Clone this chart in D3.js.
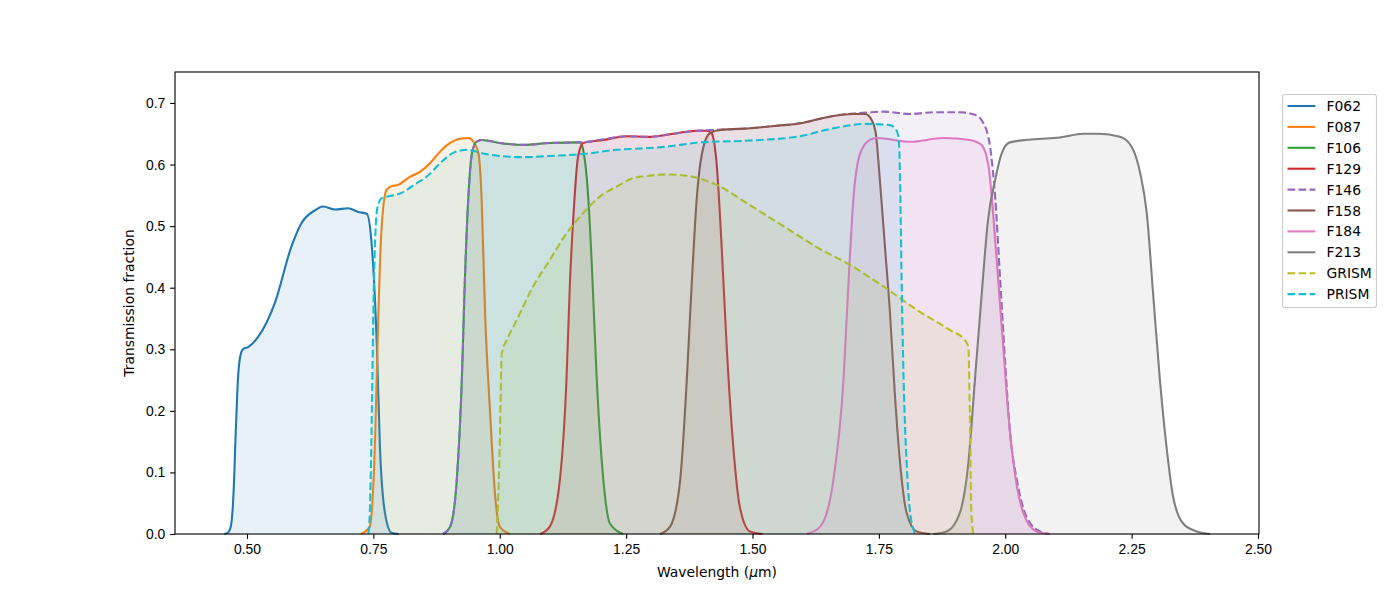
<!DOCTYPE html>
<html>
<head>
<meta charset="utf-8">
<script src="https://cdn.jsdelivr.net/npm/d3@7"></script>
<style>
  body { margin: 0; background: #fff; }
  svg { font-family: "DejaVu Sans", sans-serif; }
  .tick text { font-size: 13.9px; fill: #000; }
</style>
</head>
<body>
<div id="root"></div>
<script>
// filter transmission curves, [wavelength um, transmission]
const f062 = [[0.455,0],[0.462,0.002],[0.468,0.012],[0.473,0.06],[0.478,0.17],[0.482,0.25],[0.487,0.29],[0.492,0.30],[0.503,0.304],[0.522,0.32],[0.555,0.375],[0.588,0.467],[0.608,0.505],[0.635,0.526],[0.650,0.532],[0.674,0.527],[0.700,0.529],[0.720,0.523],[0.737,0.520],[0.747,0.467],[0.757,0.304],[0.763,0.142],[0.773,0.034],[0.786,0.002],[0.80,0]];
const f087 = [[0.725,0],[0.743,0.012],[0.753,0.142],[0.760,0.359],[0.766,0.494],[0.776,0.559],[0.786,0.565],[0.799,0.567],[0.822,0.580],[0.842,0.588],[0.862,0.602],[0.882,0.621],[0.902,0.635],[0.921,0.642],[0.938,0.643],[0.948,0.637],[0.958,0.618],[0.964,0.548],[0.971,0.358],[0.981,0.196],[0.991,0.061],[1.000,0.012],[1.02,0]];
const f106 = [[0.888,0],[0.902,0.012],[0.915,0.088],[0.925,0.25],[0.931,0.412],[0.938,0.548],[0.945,0.618],[0.954,0.637],[0.964,0.640],[1.000,0.635],[1.047,0.632],[1.099,0.635],[1.159,0.636],[1.165,0.624],[1.175,0.548],[1.182,0.44],[1.192,0.25],[1.205,0.088],[1.218,0.017],[1.244,0]];
const f129 = [[1.08,0],[1.099,0.012],[1.119,0.088],[1.132,0.25],[1.139,0.41],[1.146,0.52],[1.155,0.613],[1.165,0.635],[1.205,0.640],[1.251,0.646],[1.297,0.645],[1.343,0.650],[1.390,0.655],[1.409,0.655],[1.419,0.651],[1.429,0.602],[1.439,0.467],[1.449,0.304],[1.462,0.142],[1.475,0.044],[1.495,0.004],[1.52,0]];
const f146 = [[0.888,0],[0.902,0.012],[0.915,0.088],[0.925,0.25],[0.931,0.412],[0.938,0.548],[0.945,0.618],[0.954,0.637],[0.964,0.640],[1.000,0.635],[1.047,0.632],[1.099,0.635],[1.159,0.636],[1.205,0.641],[1.251,0.646],[1.297,0.645],[1.343,0.650],[1.390,0.655],[1.419,0.656],[1.495,0.659],[1.548,0.663],[1.594,0.667],[1.627,0.673],[1.660,0.679],[1.700,0.683],[1.735,0.685],[1.759,0.686],[1.812,0.682],[1.858,0.685],[1.910,0.685],[1.940,0.681],[1.957,0.667],[1.970,0.629],[1.980,0.548],[1.990,0.413],[2.000,0.277],[2.009,0.169],[2.023,0.088],[2.042,0.028],[2.069,0.004],[2.088,0]];
const f158 = [[1.317,0],[1.337,0.012],[1.357,0.088],[1.370,0.25],[1.380,0.41],[1.390,0.548],[1.403,0.629],[1.416,0.651],[1.436,0.656],[1.495,0.659],[1.548,0.663],[1.594,0.667],[1.627,0.673],[1.660,0.679],[1.700,0.682],[1.723,0.682],[1.736,0.672],[1.744,0.650],[1.752,0.575],[1.762,0.467],[1.772,0.359],[1.782,0.223],[1.792,0.115],[1.805,0.034],[1.825,0.004],[1.851,0]];
const f184 = [[1.607,0],[1.634,0.012],[1.660,0.088],[1.680,0.25],[1.690,0.41],[1.700,0.548],[1.713,0.618],[1.732,0.640],[1.746,0.643],[1.812,0.637],[1.877,0.643],[1.930,0.640],[1.953,0.632],[1.967,0.597],[1.976,0.521],[1.986,0.413],[1.996,0.304],[2.006,0.196],[2.019,0.099],[2.036,0.034],[2.062,0.004],[2.088,0]];
const f213 = [[1.858,0],[1.884,0.004],[1.910,0.034],[1.927,0.115],[1.940,0.25],[1.953,0.385],[1.966,0.51],[1.980,0.575],[1.993,0.618],[2.009,0.636],[2.056,0.641],[2.108,0.644],[2.155,0.650],[2.185,0.650],[2.227,0.645],[2.250,0.629],[2.267,0.586],[2.280,0.521],[2.293,0.385],[2.306,0.25],[2.319,0.142],[2.332,0.061],[2.352,0.017],[2.379,0.004],[2.405,0]];
const grism = [[0.994,0],[1.000,0.142],[1.004,0.293],[1.014,0.315],[1.034,0.348],[1.066,0.402],[1.099,0.445],[1.132,0.488],[1.165,0.521],[1.198,0.548],[1.231,0.564],[1.264,0.578],[1.297,0.582],[1.330,0.584],[1.376,0.581],[1.429,0.567],[1.495,0.534],[1.561,0.500],[1.627,0.466],[1.693,0.437],[1.759,0.402],[1.825,0.364],[1.891,0.331],[1.920,0.315],[1.927,0.304],[1.930,0.196],[1.933,0.034],[1.937,0]];
const prism = [[0.740,0],[0.743,0.034],[0.747,0.196],[0.750,0.358],[0.753,0.467],[0.758,0.530],[0.766,0.545],[0.783,0.549],[0.803,0.553],[0.836,0.570],[0.855,0.580],[0.882,0.602],[0.908,0.619],[0.935,0.624],[0.967,0.618],[1.000,0.614],[1.047,0.612],[1.099,0.614],[1.165,0.617],[1.231,0.624],[1.277,0.626],[1.330,0.629],[1.396,0.636],[1.495,0.639],[1.594,0.646],[1.660,0.659],[1.726,0.666],[1.772,0.664],[1.782,0.659],[1.789,0.645],[1.792,0.575],[1.795,0.413],[1.799,0.25],[1.805,0.115],[1.812,0.034],[1.822,0]];

const names = ["F062", "F087", "F106", "F129", "F146", "F158", "F184", "F213", "GRISM", "PRISM"];
const curves = [f062, f087, f106, f129, f146, f158, f184, f213, grism, prism];
const dashed = ["F146", "GRISM", "PRISM"];
const colors = ["#1f77b4", "#ff7f0e", "#2ca02c", "#d62728", "#9467bd", "#8c564b", "#e377c2", "#7f7f7f", "#bcbd22", "#17becf"];

const xTicks = [0.5, 0.75, 1.0, 1.25, 1.5, 1.75, 2.0, 2.25, 2.5];
const yTicks = [0, 0.1, 0.2, 0.3, 0.4, 0.5, 0.6, 0.7];

const width = 1400;
const height = 600;
const margin = { top: 72, right: 141, bottom: 66, left: 175 };
const lw = 2.08;
const dash = "7.7,3.33";

const svg = d3
  .select("#root")
  .append("svg")
  .attr("width", width)
  .attr("height", height);

const x = d3
  .scaleLinear()
  .domain([0.3576, 2.502])
  .range([margin.left, width - margin.right]);
const y = d3
  .scaleLinear()
  .domain([0, 0.7503])
  .range([height - margin.bottom, margin.top]);

const area = d3
  .area()
  .x((d) => x(d[0]))
  .y0(y(0))
  .y1((d) => y(d[1]))
  .curve(d3.curveMonotoneX);
const line = d3
  .line()
  .x((d) => x(d[0]))
  .y((d) => y(d[1]))
  .curve(d3.curveMonotoneX);

const plot = svg.append("g");

names.forEach((name, i) => {
  plot
    .append("path")
    .datum(curves[i])
    .attr("fill", colors[i])
    .attr("fill-opacity", 0.1)
    .attr("d", area);
  plot
    .append("path")
    .datum(curves[i])
    .attr("fill", "none")
    .attr("stroke", colors[i])
    .attr("stroke-width", lw)
    .attr("stroke-dasharray", dashed.includes(name) ? dash : null)
    .attr("d", line);
});

// axes
svg
  .append("g")
  .attr("transform", `translate(0,${height - margin.bottom})`)
  .call(d3.axisBottom(x).tickValues(xTicks).tickFormat(d3.format(".2f")).tickSize(4.86).tickPadding(4.86));
svg
  .append("g")
  .attr("transform", `translate(${margin.left},0)`)
  .call(d3.axisLeft(y).tickValues(yTicks).tickFormat(d3.format(".1f")).tickSize(4.86).tickPadding(4.86));
svg.selectAll(".domain").remove();
svg.selectAll(".tick line").attr("stroke", "#000").attr("stroke-width", 1.11);

// frame
svg
  .append("rect")
  .attr("x", margin.left)
  .attr("y", margin.top)
  .attr("width", width - margin.left - margin.right)
  .attr("height", height - margin.top - margin.bottom)
  .attr("fill", "none")
  .attr("stroke", "#000")
  .attr("stroke-width", 1.11);

// axis labels
const xl = svg
  .append("text")
  .attr("x", (margin.left + width - margin.right) / 2)
  .attr("y", 577)
  .attr("text-anchor", "middle")
  .attr("font-size", "13.9px");
xl.append("tspan").text("Wavelength (");
xl.append("tspan").attr("font-style", "italic").text("μ");
xl.append("tspan").text("m)");

svg
  .append("text")
  .attr("transform", `translate(134,${(margin.top + height - margin.bottom) / 2}) rotate(-90)`)
  .attr("text-anchor", "middle")
  .attr("font-size", "13.9px")
  .text("Transmission fraction");

// legend
const legend = svg.append("g").attr("transform", "translate(1282,94)");
legend
  .append("rect")
  .attr("x", 0.5)
  .attr("y", 0.5)
  .attr("width", 94)
  .attr("height", 213)
  .attr("rx", 2.5)
  .attr("fill", "#fff")
  .attr("fill-opacity", 0.8)
  .attr("stroke", "#ccc")
  .attr("stroke-width", 1.11);

names.forEach((name, i) => {
  const ly = 12 + i * 20.9;
  legend
    .append("line")
    .attr("x1", 5.5)
    .attr("x2", 33.3)
    .attr("y1", ly)
    .attr("y2", ly)
    .attr("stroke", colors[i])
    .attr("stroke-width", lw)
    .attr("stroke-dasharray", dashed.includes(name) ? dash : null);
  legend
    .append("text")
    .attr("x", 44.5)
    .attr("y", ly)
    .attr("dy", "0.36em")
    .attr("font-size", "13.9px")
    .text(name);
});
</script>
</body>
</html>
